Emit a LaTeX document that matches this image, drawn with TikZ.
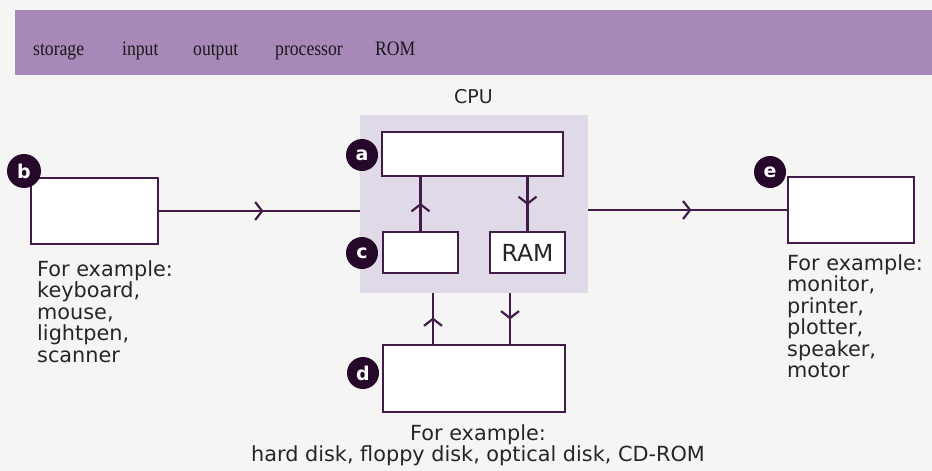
\documentclass[tikz,border=0pt]{standalone}
\usepackage{fontspec}
\setmainfont{DejaVu Sans}
\newfontfamily\bannerfont[FakeStretch=0.86]{Liberation Serif}
\usetikzlibrary{arrows.meta,decorations.markings,calc}
\definecolor{bg}{RGB}{245,245,243}
\definecolor{banner}{RGB}{168,136,184}
\definecolor{cpushade}{RGB}{224,218,232}
\definecolor{ink}{RGB}{66,28,72}
\definecolor{dot}{RGB}{38,8,42}
\definecolor{txt}{RGB}{40,36,40}
\tikzset{
  box/.style={draw=ink, line width=2.5pt, fill=white, inner sep=0pt},
  tag/.style={circle, fill=dot, inner sep=0pt, minimum size=32pt, text=white,
    font=\bfseries\fontsize{19}{19}\selectfont},
  flow/.style={draw=ink, line width=2.2pt, postaction={decorate},
    decoration={markings, mark=at position 0.52 with {\arrow{Straight Barb[length=7pt,width=18pt,line width=2.2pt]}}}},
  note/.style={text=txt, inner sep=0pt, font=\fontsize{20.8}{21.5}\selectfont},
  word/.style={text=black!90, inner sep=0pt, anchor=base west, font=\bannerfont\fontsize{20.5}{20.5}\selectfont}
}
\begin{document}
\begin{tikzpicture}[x=1pt,y=-1pt]
\useasboundingbox (0,0) rectangle (932,471);
\fill[bg] (0,0) rectangle (932,471);
% banner
\node[fill=banner, inner sep=0pt, minimum width=917pt, minimum height=65pt, anchor=north west] (bar) at (15,10) {};
\node[word] (w1) at (33,55) {storage};
\node[word] (w2) at (122,55) {input};
\node[word] (w3) at (193,55) {output};
\node[word] (w4) at (275,55) {processor};
\node[word] (w5) at (375,55) {ROM};
% CPU
\node[fill=cpushade, inner sep=0pt, minimum width=228pt, minimum height=178pt] (cpu) at (474,204) {};
\node[anchor=base, text=txt, inner sep=0pt, font=\fontsize{19}{19}\selectfont] (cpulbl) at (473.5,103) {CPU};
% boxes
\node[box, minimum width=127pt, minimum height=66pt] (b) at (94.5,211) {};
\node[box, minimum width=126pt, minimum height=66pt] (e) at (851,210) {};
\node[box, minimum width=181pt, minimum height=44pt] (a) at (472.5,154) {};
\node[box, minimum width=75pt, minimum height=41pt] (c) at (420.5,252.5) {};
\node[box, minimum width=75pt, minimum height=41pt, text=txt, font=\fontsize{23.5}{23.5}\selectfont] (ram) at (527.5,252.5) {RAM};
\node[box, minimum width=182pt, minimum height=67pt] (d) at (474,378.5) {};
% connectors
\draw[flow] (b.east) -- (b.east -| cpu.west);
\draw[flow] (e.west -| cpu.east) -- (e.west);
\draw[flow] (c.north) -- (c.north |- a.south);
\draw[flow] (ram.north |- a.south) -- (ram.north);
\draw[flow] ([xshift=-41pt]d.north) -- ([xshift=-41pt]d.north |- cpu.south);
\draw[flow] ([xshift=36pt]d.north |- cpu.south) -- ([xshift=36pt]d.north);
% tags
\node[tag] (ta) at (362,155) {a};
\node[tag, minimum size=34pt] (tb) at (24,171) {b};
\node[tag] (tc) at (362,253) {c};
\node[tag] (td) at (363,373) {d};
\node[tag] (te) at (770,172) {e};
% notes (base anchor = baseline of last line)
\node[note, anchor=base west, align=left] (nb) at (37,362) {For example:\\keyboard,\\mouse,\\lightpen,\\scanner};
\node[note, anchor=base west, align=left] (ne) at (787,377.5) {For example:\\monitor,\\printer,\\plotter,\\speaker,\\motor};
\node[note, anchor=base, align=center] (nd) at (478,461.5) {For example:\\hard disk, floppy disk, optical disk, CD-ROM};
\end{tikzpicture}
\end{document}
